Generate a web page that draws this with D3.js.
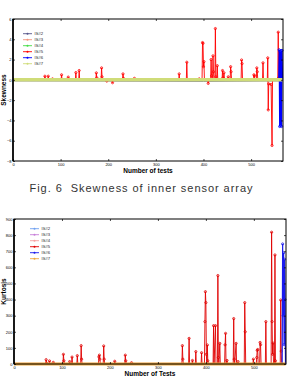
<!DOCTYPE html>
<html>
<head>
<meta charset="utf-8">
<script src="https://cdn.jsdelivr.net/npm/d3@7"></script>
<style>
  body { margin: 0; background: #fff; }
  svg { display: block; font-family: "Liberation Sans", Arial, sans-serif; }
</style>
</head>
<body>
<div id="container"></div>
<script>
// series names, same for both panels
const seriesNames = ["IS#2", "IS#3", "IS#4", "IS#5", "IS#6", "IS#7"];

// x ticks (number of tests)
const xTicks = [0, 100, 200, 300, 400, 500];
const skewTicks = [-8, -6, -4, -2, 0, 2, 4, 6];
const kurtTicks = [0, 100, 200, 300, 400, 500, 600, 700, 800, 900];

// skewness, [test, value]
const skewIS2 = [[0, -0.1], [200, -0.12], [400, -0.15], [565, -0.1]];
const skewIS3 = [[0, 0.05], [565, 0.05]];
const skewIS4 = [[0, 0.02], [565, 0.02]];
const skewIS5 = [[0,0],[66,0],[67,0.36],[68,0.05],[73,0],[74,0.36],[75,0],[82,0],[83,0.1],[84,0],
  [101,0],[102,0.5],[103,0],[115,0],[116,0.27],[117,0],[131,0],[132,0.72],[133,0],[138,0],[139,0.92],[140,0],
  [174,0],[175,0.69],[176,0.2],[177,0],[185,0],[186,1.18],[187,0.3],[188,0],[196,0],[197,-0.12],[198,0],
  [208,0],[209,-0.28],[210,0],[230,0],[231,0.59],[232,0.15],[233,0],[254,0],[255,0.15],[256,0],
  [348,0],[349,0.59],[350,0],[364,0],[365,1.74],[366,0],[390,0],[391,0.1],[392,0],
  [397,0],[398,3.68],[399,3.6],[400,1.3],[401,1.8],[402,0],[409,0],[410,-0.35],[411,0],
  [415,0],[416,2.0],[417,0.4],[418,0],[419,0],[420,2.37],[421,0.8],[422,0],[424,0],[425,5.06],[426,0.3],[427,0],
  [428,0],[429,1.4],[430,0],[439,0],[440,0.92],[441,0.2],[442,0],[443,0.7],[444,0],[451,0],[452,0.3],[453,0],
  [456,0],[457,1.3],[458,0.8],[459,0],[479,0],[480,1.96],[481,1.6],[482,0],[505,0],[506,0.5],[507,0.4],[508,0],
  [511,0],[512,1.18],[513,0.8],[514,0],[524,0],[525,1.68],[526,0],[534,0],[535,2.17],[536,-2.96],[537,-0.4],
  [542,-0.45],[544,-6.47],[545,0],[556,0],[557,4.7],[558,0.2],[559,0],[565,0]];
const skewIS6 = [[0,0],[558,0],[559,2.96],[560,-4.6],[561,2.8],[562,-4.5],[563,2.9],[564,-4.6],[565,2.9],[566,0]];
const skewIS7 = [[0, 0], [566, 0]];

// kurtosis, [test, value]
const kurtIS2 = [[0, 3], [565, 3]];
const kurtIS3 = [[0, 2], [565, 2]];
const kurtIS4 = [[0, 4], [565, 4]];
const kurtIS5 = [[0,0],[66,0],[67,27],[68,5],[73,0],[74,19],[75,0],[81,0],[82,10],[83,0],[102,0],[103,60],[104,20],[105,0],
  [115,0],[116,15],[117,0],[120,0],[121,43],[122,0],[131,0],[132,52],[133,0],[139,0],[140,114],[141,30],[142,0],
  [176,0],[177,44],[178,55],[179,30],[180,0],[186,0],[187,112],[188,30],[189,0],[209,0],[210,17],[211,0],
  [231,0],[232,55],[233,20],[234,0],[244,0],[245,8],[246,0],
  [350,0],[351,114],[352,30],[353,0],[364,0],[365,159],[366,0],[371,0],[372,22],[373,0],[378,0],[379,77],[380,0],
  [390,0],[391,70],[392,0],[397,0],[398,263],[399,449],[400,381],[401,60],[402,0],[403,118],[404,20],[405,0],
  [415,0],[416,238],[417,0],[420,238],[421,0],[424,0],[425,549],[426,40],[427,0],[429,128],[430,0],
  [439,0],[440,119],[441,190],[442,0],[444,22],[445,0],[457,0],[458,282],[459,30],[460,0],[463,128],[464,0],
  [467,15],[468,0],[480,0],[481,381],[482,200],[483,0],[498,0],[499,30],[500,0],[505,0],[506,40],[507,85],[508,90],[509,0],
  [512,0],[513,134],[514,120],[515,0],[524,0],[525,263],[526,0],[536,0],[537,818],[538,263],[539,60],[540,130],[541,0],
  [543,0],[544,677],[545,20],[546,0],[555,0],[556,397],[557,80],[558,0],[565,0]];
const kurtIS6 = [[0,0],[559,0],[560,745],[561,300],[562,690],[563,120],[564,650],[565,400],[566,0]];
const kurtIS7 = [[0, 0], [566, 0]];

const skewColors = ["#55558a", "#f4947c", "#44dd44", "#ff0000", "#0000ff", "#cfdc78"];
const kurtColors = ["#6fa0f0", "#c77fd9", "#f5a0a0", "#e00000", "#1a1aee", "#eda63a"];

const W = 290, H = 379;
const svg = d3.select("#container").append("svg")
  .attr("width", W).attr("height", H);

function panel(opt) {
  const x = d3.scaleLinear().domain([0, 567]).range([opt.left, opt.right]);
  const y = d3.scaleLinear().domain(opt.yDomain).range([opt.bottom, opt.top]);
  const g = svg.append("g");

  // plot lines, last series on top (matlab order)
  const line = d3.line().x(d => x(d[0])).y(d => y(d[1]));
  opt.series.forEach((s, i) => {
    const last = i === opt.series.length - 1;
    g.append("path")
      .attr("d", line(s))
      .attr("fill", "none")
      .attr("stroke", opt.colors[i])
      .attr("stroke-width", last ? opt.bandWidth : (i === 4 ? 1.2 : 0.9));
    // markers on the spiky series
    if (i === 3 || i === 4) {
      g.selectAll(null).data(s.filter(d => d[1] !== 0)).join("circle")
        .attr("cx", d => x(d[0])).attr("cy", d => y(d[1]))
        .attr("r", 1.1)
        .attr("fill", "none")
        .attr("stroke", opt.colors[i])
        .attr("stroke-width", 0.8);
    }
  });

  // box
  g.append("rect")
    .attr("x", opt.left).attr("y", opt.top)
    .attr("width", opt.right - opt.left).attr("height", opt.bottom - opt.top)
    .attr("fill", "none").attr("stroke", "#000").attr("stroke-width", 1);
  g.append("line")
    .attr("x1", opt.left).attr("x2", opt.left)
    .attr("y1", opt.top).attr("y2", opt.bottom)
    .attr("stroke", "#000").attr("stroke-width", 1.6);

  // axes, inward ticks
  const fmt = d3.format("d");
  const bottomAx = g.append("g").attr("transform", `translate(0,${opt.bottom})`)
    .call(d3.axisBottom(x).tickValues(xTicks).tickSize(-2).tickPadding(2.5).tickFormat(fmt));
  const topAx = g.append("g").attr("transform", `translate(0,${opt.top})`)
    .call(d3.axisTop(x).tickValues(xTicks).tickSize(-2).tickFormat(""));
  const leftAx = g.append("g").attr("transform", `translate(${opt.left},0)`)
    .call(d3.axisLeft(y).tickValues(opt.yTicks).tickSize(-2).tickPadding(1.5).tickFormat(fmt));
  const rightAx = g.append("g").attr("transform", `translate(${opt.right},0)`)
    .call(d3.axisRight(y).tickValues(opt.yTicks).tickSize(-2).tickFormat(""));
  [bottomAx, topAx, leftAx, rightAx].forEach(a => {
    a.select(".domain").remove();
    a.selectAll("line").attr("stroke", "#000").attr("stroke-width", 0.7);
    a.selectAll("text").attr("font-size", 4).attr("fill", "#000");
  });

  // axis titles
  g.append("text")
    .attr("transform", `translate(${opt.yTitleX},${(opt.top + opt.bottom) / 2}) rotate(-90)`)
    .attr("text-anchor", "middle")
    .attr("font-size", 6.5).attr("font-weight", "bold")
    .text(opt.yTitle);
  g.append("text")
    .attr("x", opt.xTitleX).attr("y", opt.bottom + 12)
    .attr("text-anchor", "middle")
    .attr("font-size", 6.5).attr("font-weight", "bold")
    .text(opt.xTitle);

  // legend
  const lg = g.append("g").attr("transform", `translate(${opt.legX},${opt.legY})`);
  seriesNames.forEach((name, i) => {
    const row = lg.append("g").attr("transform", `translate(0,${i * 6})`);
    row.append("line").attr("x1", 0).attr("x2", 9)
      .attr("stroke", opt.colors[i]).attr("stroke-width", 0.9);
    row.append("circle").attr("cx", 4.5).attr("r", 1)
      .attr("fill", opt.colors[i]);
    row.append("text").attr("x", 11.5).attr("dy", "0.35em")
      .attr("font-size", 4.2).attr("fill", "#222")
      .text(name);
  });
}

panel({
  left: 13, right: 283, top: 19, bottom: 161,
  yDomain: [-8, 6], yTicks: skewTicks,
  series: [skewIS2, skewIS3, skewIS4, skewIS5, skewIS6, skewIS7],
  colors: skewColors, bandWidth: 3.5,
  yTitle: "Skewness", yTitleX: 5.5,
  xTitle: "Number of tests", xTitleX: 148,
  legX: 23, legY: 33.7
});

// caption between the two panels (wide gap after the figure number)
svg.append("text")
  .attr("x", 141).attr("y", 192)
  .attr("text-anchor", "middle")
  .attr("font-size", 11).attr("fill", "#333")
  .attr("textLength", 223).attr("lengthAdjust", "spacing")
  .text("Fig. 6\u00a0\u00a0Skewness of inner sensor array");

panel({
  left: 14, right: 286, top: 219, bottom: 364,
  yDomain: [0, 900], yTicks: kurtTicks,
  series: [kurtIS2, kurtIS3, kurtIS4, kurtIS5, kurtIS6, kurtIS7],
  colors: kurtColors, bandWidth: 3.2,
  yTitle: "Kurtosis", yTitleX: 5.5,
  xTitle: "Number of Tests", xTitleX: 150,
  legX: 30, legY: 228.7
});
</script>
</body>
</html>
